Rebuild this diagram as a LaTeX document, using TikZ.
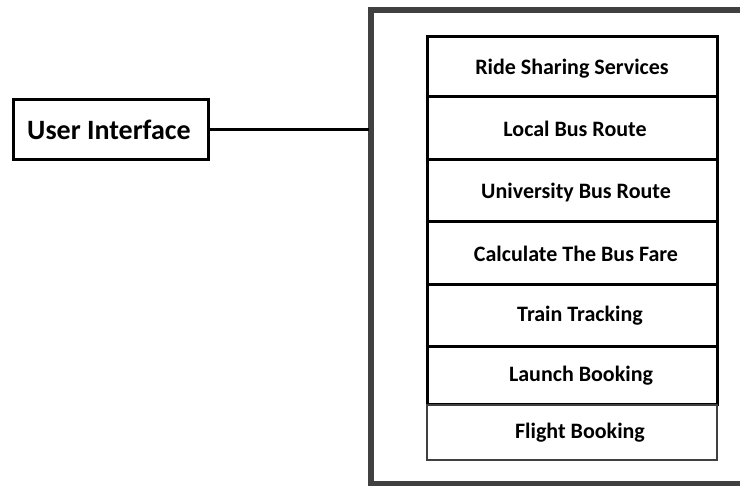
\documentclass[tikz,border=0pt]{standalone}
\usepackage{fontspec}
\setmainfont{Carlito}
\newcommand{\shiftby}[1]{\hspace*{#1pt}}
\begin{document}
\begin{tikzpicture}[x=1pt,y=-1pt,
  framecol/.style={draw=black!75, line width=6pt},
  uibox/.style={draw=black, line width=3pt, fill=white, minimum width=195pt,
    minimum height=60pt, inner sep=0pt, font=\fontsize{28}{32}\selectfont\bfseries},
  menubox/.style={draw=black, line width=3pt, fill=white, minimum width=290pt,
    inner sep=0pt, font=\fontsize{22}{26}\selectfont\bfseries},
  lastbox/.style={menubox, draw=black!75, line width=2.5pt},
  link/.style={draw=black, line width=3pt}]
\useasboundingbox (0,0) rectangle (740,486);

% open container frame on the right
\draw[framecol] (742,10) -- (371,10) -- (371,484) -- (742,484);
\coordinate (frameleft) at (369,130);

% menu entries stacked inside the frame
\node[menubox, minimum height=60pt, text depth=-2pt] (ride) at (572,67) {Ride Sharing Services};
\node[menubox, minimum height=63pt] (local) at (572,128.5) {\shiftby{6}Local Bus Route};
\node[menubox, minimum height=62pt, text depth=-2pt] (uni) at (572,191) {\shiftby{8}University Bus Route};
\node[menubox, minimum height=63pt] (fare) at (572,253.5) {\shiftby{8}Calculate The Bus Fare};
\node[menubox, minimum height=62pt] (train) at (572,316) {\shiftby{16}Train Tracking};
\node[menubox, minimum height=58pt] (launch) at (572,376) {\shiftby{18}Launch Booking};
\node[lastbox, minimum height=55pt] (flight) at (572,432.5) {\shiftby{16}Flight Booking};

% user interface box and its link to the frame
\node[uibox] (ui) at (110.5,130) {\shiftby{-3}User Interface};
\draw[link] (ui.east) -- (frameleft);
\end{tikzpicture}
\end{document}
